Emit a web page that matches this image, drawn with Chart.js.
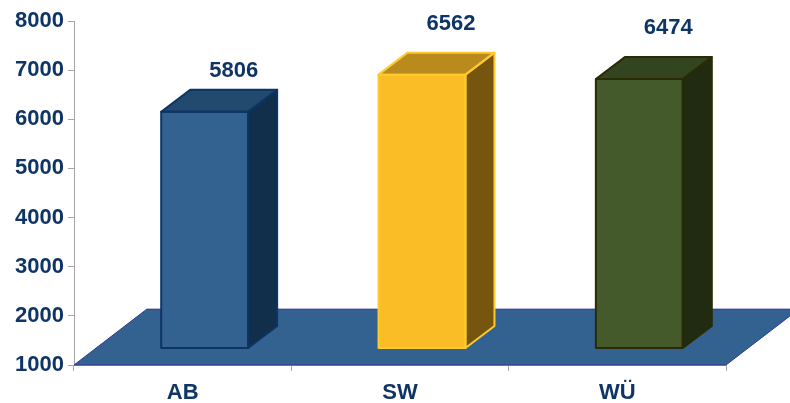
<!DOCTYPE html>
<html>
<head>
<meta charset="utf-8">
<script src="https://cdn.jsdelivr.net/npm/chart.js@4/dist/chart.umd.min.js"></script>
<style>
  html, body { margin: 0; padding: 0; background: #fff; }
  #wrap { width: 790px; height: 403px; }
</style>
</head>
<body>
<div id="wrap"><canvas id="chart"></canvas></div>
<script>
const regions = ['AB', 'SW', 'WÜ'];
const counts = [5806, 6562, 6474];
const yTicks = [1000, 2000, 3000, 4000, 5000, 6000, 7000, 8000];

// face colours per column: front, top, side, outline
const faces = [
  { front: '#336291', top: '#22496e', side: '#112f4b', edge: '#0c3465' },
  { front: '#fbbd26', top: '#b98b1c', side: '#76560f', edge: '#fdc92e' },
  { front: '#455a2a', top: '#33451f', side: '#212b12', edge: '#2a2a05' }
];
const labelLift = [13, 23, 23];

const navy = '#0f3567';
const font = { family: '"Liberation Sans", Arial, sans-serif', size: 22, weight: 'bold' };

// floor depth and column placement inside it (pixels)
const floorDepth = { dx: 73, dy: -56 };
const colShift = { dx: 22, dy: -17 };
const colDepth = { dx: 29, dy: -22 };

function poly(ctx, pts, fill, stroke, lw) {
  ctx.beginPath();
  ctx.moveTo(pts[0][0], pts[0][1]);
  for (let i = 1; i < pts.length; i++) ctx.lineTo(pts[i][0], pts[i][1]);
  ctx.closePath();
  if (fill) { ctx.fillStyle = fill; ctx.fill(); }
  if (stroke) { ctx.strokeStyle = stroke; ctx.lineWidth = lw || 1; ctx.stroke(); }
}

const boxes3d = {
  id: 'boxes3d',
  beforeDatasetsDraw(chart) {
    const ctx = chart.ctx;
    const a = chart.chartArea;
    const yb = chart.scales.y.getPixelForValue(yTicks[0]);
    ctx.save();
    const fl = [[a.left, yb], [a.right, yb],
      [a.right + floorDepth.dx, yb + floorDepth.dy], [a.left + floorDepth.dx, yb + floorDepth.dy]];
    poly(ctx, fl, '#336291', '#2d3b92', 1);
    ctx.beginPath();
    ctx.moveTo(fl[3][0], fl[3][1] - 0.5);
    ctx.lineTo(790, fl[3][1] - 0.5);
    ctx.strokeStyle = '#b8b8e0';
    ctx.stroke();
    ctx.restore();
  },
  afterDatasetsDraw(chart) {
    const ctx = chart.ctx;
    const meta = chart.getDatasetMeta(0);
    const floorY = chart.scales.y.getPixelForValue(yTicks[0]);
    ctx.save();
    meta.data.forEach((bar, i) => {
      const c = faces[i];
      const x0 = bar.x - bar.width / 2 + colShift.dx;
      const x1 = bar.x + bar.width / 2 + colShift.dx;
      const yt = bar.y + colShift.dy;
      const yb = floorY + colShift.dy;
      const dx = colDepth.dx, dy = colDepth.dy;
      const front = [[x0, yt], [x1, yt], [x1, yb], [x0, yb]];
      const top = [[x0, yt], [x0 + dx, yt + dy], [x1 + dx, yt + dy], [x1, yt]];
      const side = [[x1, yt], [x1 + dx, yt + dy], [x1 + dx, yb + dy], [x1, yb]];
      poly(ctx, side, c.side);
      poly(ctx, top, c.top);
      poly(ctx, front, c.front);
      ctx.lineJoin = 'round';
      poly(ctx, side, null, c.edge, 2);
      poly(ctx, top, null, c.edge, 2);
      poly(ctx, front, null, c.edge, 2);

      ctx.fillStyle = navy;
      ctx.font = `${font.weight} ${font.size}px ${font.family}`;
      ctx.textAlign = 'center';
      ctx.textBaseline = 'alphabetic';
      ctx.fillText(String(counts[i]), (x0 + x1) / 2 + dx, yt + dy - labelLift[i]);
    });
    ctx.restore();
  }
};

new Chart(document.getElementById('chart'), {
  type: 'bar',
  data: {
    labels: regions,
    datasets: [{
      data: counts,
      backgroundColor: 'rgba(0,0,0,0)',
      borderWidth: 0,
      categoryPercentage: 1,
      barPercentage: 0.4
    }]
  },
  options: {
    responsive: true,
    maintainAspectRatio: false,
    animation: false,
    layout: { padding: { top: 21, right: 64, left: 0, bottom: 0 } },
    plugins: { legend: { display: false }, tooltip: { enabled: false } },
    scales: {
      y: {
        min: yTicks[0],
        max: yTicks[yTicks.length - 1],
        afterFit: s => { s.width = 74; },
        afterBuildTicks: s => { s.ticks = yTicks.map(v => ({ value: v })); },
        border: { color: '#a6a6a6', width: 1 },
        grid: { drawOnChartArea: false, tickLength: 6, color: '#a6a6a6' },
        ticks: { color: navy, font: font, padding: 4, callback: v => String(v) }
      },
      x: {
        afterFit: s => { s.height = 38; },
        border: { color: '#a6a6a6', width: 1 },
        grid: { drawOnChartArea: false, tickLength: 6, color: '#a6a6a6', offset: true },
        ticks: { color: navy, font: font, padding: 9 }
      }
    }
  },
  plugins: [boxes3d]
});
</script>
</body>
</html>
